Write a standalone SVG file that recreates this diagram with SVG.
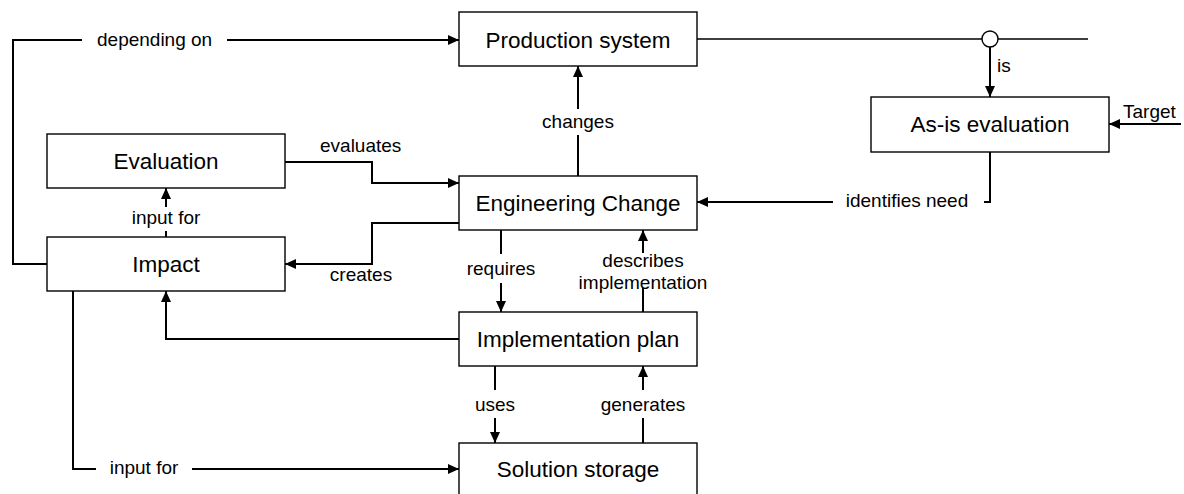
<svg xmlns="http://www.w3.org/2000/svg" width="1184" height="494" viewBox="0 0 1184 494">
  <defs>
    <style>
      .box { fill: #fff; stroke: #000; stroke-width: 1.4; }
      .title { font-family: "Liberation Sans", Arial, sans-serif; font-size: 22.5px; fill: #000; text-anchor: middle; }
      .lbl { font-family: "Liberation Sans", Arial, sans-serif; font-size: 19px; fill: #000; }
      .mid { text-anchor: middle; }
      .wire { fill: none; stroke: #000; stroke-width: 2; }
      .thin { fill: none; stroke: #000; stroke-width: 1.4; }
      .arr { marker-end: url(#head); }
    </style>
    <marker id="head" markerUnits="userSpaceOnUse" markerWidth="11" markerHeight="10" refX="11" refY="5" orient="auto">
      <path d="M0,0 L11,5 L0,10 z" fill="#000"/>
    </marker>
  </defs>
  <rect width="1184" height="494" fill="#fff"/>

  <!-- connectors -->
  <g id="connectors">
    <!-- Impact depending on Production system -->
    <path class="wire" d="M47,264 H13 V40 H82"/>
    <path class="wire arr" d="M227,40 H459"/>
    <text class="lbl" x="97" y="46">depending on</text>

    <!-- Engineering Change changes Production system -->
    <path class="wire" d="M578,176 V135"/>
    <path class="wire arr" d="M578,109 V66"/>
    <text class="lbl mid" x="578" y="128">changes</text>

    <!-- Production system line with junction -->
    <path class="thin" d="M697,39 H982 M998,39 H1088"/>
    <circle cx="990" cy="39" r="8" fill="#fff" stroke="#000" stroke-width="1.4"/>
    <path class="wire arr" d="M990,47 V97"/>
    <text class="lbl" x="997" y="72">is</text>

    <!-- Target -->
    <path class="wire arr" d="M1181,124 H1109"/>
    <text class="lbl" x="1123" y="118">Target</text>

    <!-- As-is evaluation identifies need -->
    <path class="wire" d="M990,152 V202 H984"/>
    <path class="wire arr" d="M833,202 H697"/>
    <text class="lbl mid" x="907" y="207">identifies need</text>

    <!-- Evaluation evaluates Engineering Change -->
    <path class="wire arr" d="M285,162 H372 V183 H459"/>
    <text class="lbl" x="320" y="152">evaluates</text>

    <!-- Engineering Change creates Impact -->
    <path class="wire arr" d="M459,223 H372 V264 H285"/>
    <text class="lbl mid" x="361" y="281">creates</text>

    <!-- Impact input for Evaluation -->
    <path class="wire" d="M166,237 V231"/>
    <path class="wire arr" d="M166,207 V188"/>
    <text class="lbl mid" x="166" y="224">input for</text>

    <!-- Implementation plan to Impact -->
    <path class="wire arr" d="M459,339 H166 V291"/>

    <!-- Impact input for Solution storage -->
    <path class="wire" d="M73,291 V469 H96"/>
    <path class="wire arr" d="M192,469 H459"/>
    <text class="lbl mid" x="144" y="474">input for</text>

    <!-- requires -->
    <path class="wire" d="M501,230 V254"/>
    <path class="wire arr" d="M501,283 V312"/>
    <text class="lbl mid" x="501" y="275">requires</text>

    <!-- describes implementation -->
    <path class="wire" d="M643,312 V288"/>
    <path class="wire arr" d="M643,253 V230"/>
    <text class="lbl mid" x="643" y="267">describes</text>
    <text class="lbl mid" x="643" y="289">implementation</text>

    <!-- uses -->
    <path class="wire" d="M495,366 V390"/>
    <path class="wire arr" d="M495,418 V443"/>
    <text class="lbl mid" x="495" y="411">uses</text>

    <!-- generates -->
    <path class="wire" d="M643,443 V418"/>
    <path class="wire arr" d="M643,390 V366"/>
    <text class="lbl mid" x="643" y="411">generates</text>
  </g>

  <!-- nodes -->
  <g id="production-system">
    <rect class="box" x="459" y="12" width="238" height="54"/>
    <text class="title" x="578" y="48">Production system</text>
  </g>
  <g id="as-is-evaluation">
    <rect class="box" x="871" y="97" width="238" height="55"/>
    <text class="title" x="990" y="132">As-is evaluation</text>
  </g>
  <g id="evaluation">
    <rect class="box" x="47" y="134" width="238" height="54"/>
    <text class="title" x="166" y="169">Evaluation</text>
  </g>
  <g id="engineering-change">
    <rect class="box" x="459" y="176" width="238" height="54"/>
    <text class="title" x="578" y="211">Engineering Change</text>
  </g>
  <g id="impact">
    <rect class="box" x="47" y="237" width="238" height="54"/>
    <text class="title" x="166" y="272">Impact</text>
  </g>
  <g id="implementation-plan">
    <rect class="box" x="459" y="312" width="238" height="54"/>
    <text class="title" x="578" y="347">Implementation plan</text>
  </g>
  <g id="solution-storage">
    <rect class="box" x="459" y="443" width="238" height="54"/>
    <text class="title" x="578" y="477">Solution storage</text>
  </g>
</svg>
